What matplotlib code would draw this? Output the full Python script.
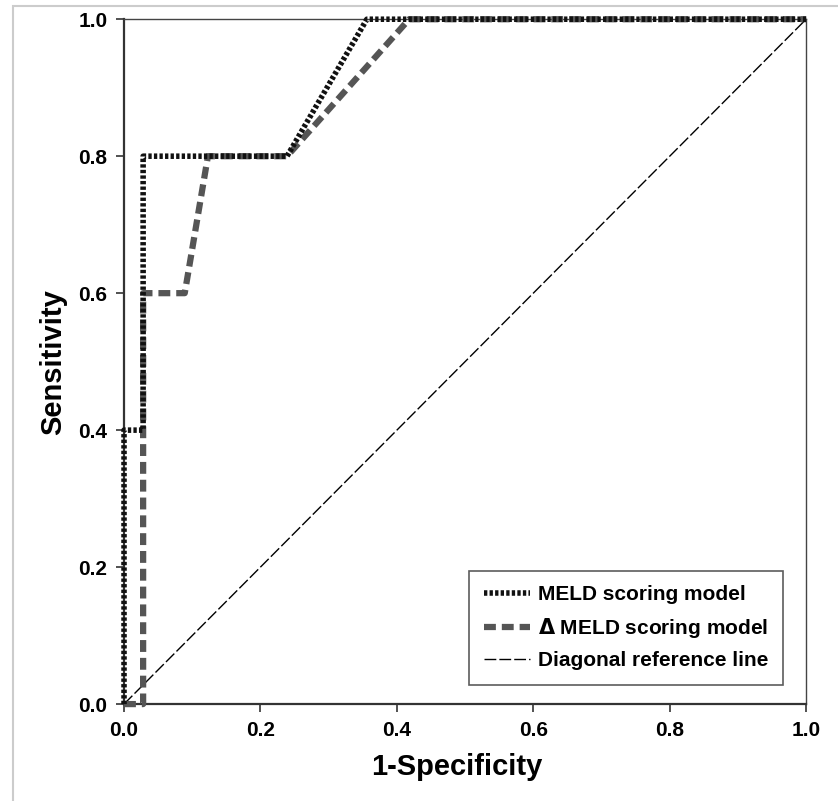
import matplotlib
matplotlib.use("Agg")
import matplotlib.pyplot as plt
from matplotlib.patches import Rectangle

plt.rcParams['font.family'] = ['Liberation Sans Narrow', 'Liberation Sans', 'DejaVu Sans']
plt.rcParams['font.weight'] = 'bold'

# ROC curve points
meld_fpr = [0.0, 0.0, 0.028, 0.028, 0.239, 0.356, 1.0]
meld_tpr = [0.0, 0.4, 0.4, 0.8, 0.8, 1.0, 1.0]

dmeld_fpr = [0.0, 0.028, 0.028, 0.089, 0.123, 0.239, 0.418, 1.0]
dmeld_tpr = [0.0, 0.0, 0.6, 0.6, 0.8, 0.8, 1.0, 1.0]

diag = [0.0, 1.0]
ticks = [0.0, 0.2, 0.4, 0.6, 0.8, 1.0]

fig = plt.figure(figsize=(8.38, 8.01), dpi=100)
fig.patches.append(Rectangle((0.0155, -0.01), 1.2, 1.003, transform=fig.transFigure,
                             fill=False, edgecolor='#cccccc', lw=1.5))
ax = fig.add_axes([0.148, 0.121, 0.814, 0.855])

ax.plot(diag, diag, color='black', lw=1.0, dashes=(8.5, 2.2), label='Diagonal reference line')
ax.plot(dmeld_fpr, dmeld_tpr, color='#555555', lw=4.5, dashes=(1.9, 0.95),
        solid_capstyle='butt', dash_capstyle='butt', clip_on=False, zorder=3,
        label=r'$\Delta$ MELD scoring model')
ax.plot(meld_fpr, meld_tpr, color='#111111', lw=4.0, dashes=(0.6, 0.4),
        dash_capstyle='butt', clip_on=False, zorder=3, label='MELD scoring model')

ax.set_xlim(0, 1)
ax.set_ylim(0, 1)
ax.set_xticks(ticks)
ax.set_yticks(ticks)
ax.set_xticklabels(['%.1f' % t for t in ticks])
ax.set_yticklabels(['%.1f' % t for t in ticks])
ax.tick_params(labelsize=15, length=6, width=1.2, color='#333333', pad=6)
for lab in ax.get_xticklabels() + ax.get_yticklabels():
    lab.set_fontweight('bold')
for side in ['left', 'bottom']:
    ax.spines[side].set_linewidth(1.6)
    ax.spines[side].set_color('#333333')
for side in ['top', 'right']:
    ax.spines[side].set_linewidth(1.0)
    ax.spines[side].set_color('#444444')

ax.set_xlabel('1-Specificity', fontsize=21, fontweight='bold')
ax.xaxis.set_label_coords(0.488, -0.072)
ax.set_ylabel('Sensitivity', fontsize=21, fontweight='bold', labelpad=8)

handles, labels = ax.get_legend_handles_labels()
order = [2, 1, 0]
leg = ax.legend([handles[i] for i in order], [labels[i] for i in order],
                loc='lower right', bbox_to_anchor=(0.966, 0.028), borderaxespad=0,
                fontsize=15, frameon=True, fancybox=False, handlelength=2.2,
                handletextpad=0.4, borderpad=0.7, labelspacing=0.55)
leg.set_zorder(5)
leg.get_frame().set_edgecolor('#333333')
leg.get_frame().set_linewidth(1.2)
for t in leg.get_texts():
    t.set_fontweight('bold')

fig.savefig('out.png', dpi=100)
